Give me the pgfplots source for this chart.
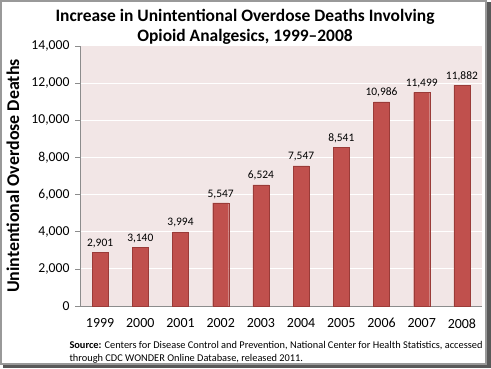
\documentclass[border=0pt]{standalone}
\usepackage{pgfplots}
\pgfplotsset{compat=1.18}
\usepackage{fontspec}
\setmainfont{Carlito}
\definecolor{barred}{HTML}{C0504D}
\definecolor{baredge}{HTML}{9A3B38}
\definecolor{plotbg}{HTML}{F2E6E6}
\definecolor{axgray}{HTML}{8C8C8C}
\begin{document}
\begin{tikzpicture}[x=1bp,y=1bp]
\useasboundingbox (0,0) rectangle (491,368);
\fill[white] (0,0) rectangle (491,368);
% shadow
\fill[gray!70!black] (3,0) rectangle (491,4);
\fill[gray!70!black] (486,0) rectangle (491,366);
\draw[gray!80, line width=1.2bp] (1,4) rectangle (486,367);
\begin{axis}[
  at={(80bp,62bp)}, anchor=south west,
  scale only axis, width=402bp, height=260bp,
  xmin=-0.5, xmax=9.5, ymin=0, ymax=14000,
  axis background/.style={fill=plotbg},
  axis x line*=bottom, axis y line*=left,
  axis line style={axgray, line width=0.6bp},
  ytick={0,2000,...,14000},
  yticklabel style={font=\fontsize{13.7}{13.7}\selectfont, xshift=-2bp},
  scaled y ticks=false,
  /pgf/number format/.cd, 1000 sep={,}, assume math mode=true, /pgfplots/.cd,
  ymajorgrids, grid style={white, line width=1bp},
  tick style={axgray, line width=0.6bp},
  major tick length=5bp,
  ytick align=outside,
  xtick={0,...,9},
  xticklabels={1999,2000,2001,2002,2003,2004,2005,2006,2007,2008},
  x tick style={draw=none},
  minor xtick={-0.5,0.5,...,9.5},
  minor x tick style={axgray, line width=0.6bp},
  minor tick length=5bp,
  xtick align=outside,
  xticklabel style={font=\fontsize{14}{14}\selectfont, yshift=-4bp},
  ylabel={\bfseries Unintentional Overdose Deaths},
  ylabel style={font=\fontsize{18}{18}\selectfont, at={(axis description cs:-0.167,0.5)}, anchor=center, rotate=0},
  ybar, bar width=16bp,
  nodes near coords,
  nodes near coords style={font=\fontsize{11.5}{11.5}\selectfont, black, /pgf/number format/1000 sep={,}, yshift=1bp},
  clip=false,
]
\addplot[fill=barred, draw=baredge, line width=0.4bp] coordinates {
(0,2901) (1,3140) (2,3994) (3,5547) (4,6524) (5,7547) (6,8541) (7,10986) (8,11499) (9,11882)};
\end{axis}
\node[font=\bfseries\fontsize{17.5}{20}\selectfont, align=center] at (245,341) {Increase in Unintentional Overdose Deaths Involving\\Opioid Analgesics, 1999--2008};
\node[font=\fontsize{10.4}{13}\selectfont, align=left, anchor=north west] at (66,30) {\textbf{Source:} Centers for Disease Control and Prevention, National Center for Health Statistics, accessed\\through CDC WONDER Online Database, released 2011.};
\end{tikzpicture}
\end{document}
